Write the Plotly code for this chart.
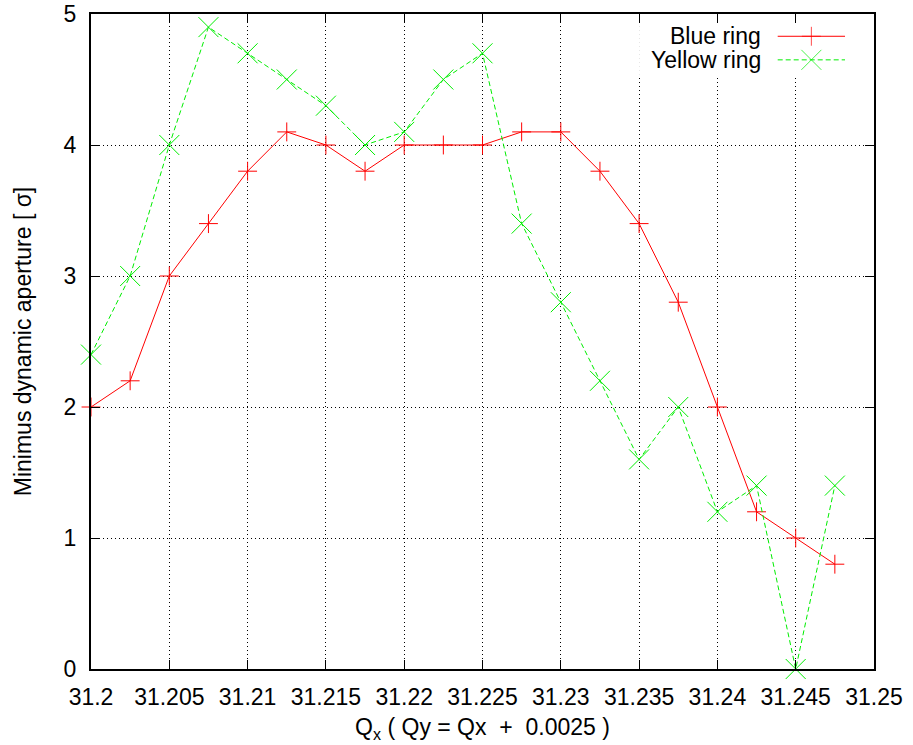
import plotly.graph_objects as go

# Tune scan: Qx values (Qy = Qx + 0.0025)
qx = [31.2, 31.2025, 31.205, 31.2075, 31.21, 31.2125, 31.215, 31.2175, 31.22, 31.2225,
      31.225, 31.2275, 31.23, 31.2325, 31.235, 31.2375, 31.24, 31.2425, 31.245, 31.2475]

# Minimum dynamic aperture in units of sigma
blue_ring = [2.0, 2.2, 3.0, 3.4, 3.8, 4.1, 4.0, 3.8, 4.0, 4.0,
             4.0, 4.1, 4.1, 3.8, 3.4, 2.8, 2.0, 1.2, 1.0, 0.8]
yellow_ring = [2.4, 3.0, 4.0, 4.9, 4.7, 4.5, 4.3, 4.0, 4.1, 4.5,
               4.7, 3.4, 2.8, 2.2, 1.6, 2.0, 1.2, 1.4, 0.0, 1.4]

x_ticks = [31.2, 31.205, 31.21, 31.215, 31.22, 31.225, 31.23, 31.235, 31.24, 31.245, 31.25]
x_tick_text = ["31.2", "31.205", "31.21", "31.215", "31.22", "31.225", "31.23", "31.235",
               "31.24", "31.245", "31.25"]
y_ticks = [0, 1, 2, 3, 4, 5]

series_names = ["Blue ring", "Yellow ring"]

RED = "#ff0000"
GREEN = "#00ee00"
FONT = "Liberation Sans, Arial, sans-serif"
FS = 23

fig = go.Figure()

fig.add_trace(go.Scatter(
    x=qx, y=blue_ring, mode="lines+markers", name=series_names[0],
    line=dict(color=RED, width=1),
    marker=dict(symbol="cross-thin-open", size=13.5, line=dict(color=RED, width=1)),
    cliponaxis=False, showlegend=False,
))
fig.add_trace(go.Scatter(
    x=qx, y=yellow_ring, mode="lines+markers", name=series_names[1],
    line=dict(color=GREEN, width=1, dash="5px,3px"),
    marker=dict(symbol="x-thin-open", size=20, line=dict(color=GREEN, width=1)),
    cliponaxis=False, showlegend=False,
))

# Key in the top-right corner (on an overlay axis spanning 0..1):
# a white patch hiding the grid, then label on the left, sample on the right
kx0, kx1, ky0, ky1 = 0.70, 0.976, 0.905, 0.988
fig.add_trace(go.Scatter(
    x=[kx0, kx1, kx1, kx0, kx0], y=[ky0, ky0, ky1, ky1, ky0], xaxis="x2", yaxis="y2",
    mode="lines", fill="toself", fillcolor="white", line=dict(width=0, color="white"),
    showlegend=False, hoverinfo="skip",
))

key_rows = [(series_names[0], RED, "solid", "cross-thin-open", 13.5, 0.966),
            (series_names[1], GREEN, "5px,3px", "x-thin-open", 20, 0.930)]
for label, color, dash, sym, size, yk in key_rows:
    fig.add_trace(go.Scatter(
        x=[0.877, 0.920, 0.963], y=[yk, yk, yk], xaxis="x2", yaxis="y2",
        mode="lines+markers", line=dict(color=color, width=1, dash=dash),
        marker=dict(symbol=sym, size=[0, size, 0], line=dict(color=color, width=1)),
        showlegend=False, hoverinfo="skip", cliponaxis=False,
    ))
    fig.add_annotation(x=0.858, y=yk, xref="x2", yref="y2", text=label,
                       showarrow=False, xanchor="right", yanchor="middle",
                       font=dict(family=FONT, size=FS, color="black"))

axis_common = dict(
    showline=True, linecolor="black", linewidth=2, mirror="allticks",
    ticks="inside", ticklen=9, tickwidth=1, tickcolor="black",
    showgrid=True, gridcolor="black", gridwidth=1, griddash="1px,3px",
    zeroline=False, tickfont=dict(family=FONT, size=FS, color="black"),
    automargin=False,
)

fig.update_layout(
    width=913, height=745,
    margin=dict(l=91, r=39, t=14, b=76),
    paper_bgcolor="white", plot_bgcolor="white",
    font=dict(family=FONT, size=FS, color="black"),
    xaxis=dict(range=[31.2, 31.25], tickvals=x_ticks, ticktext=x_tick_text,
               ticklabelstandoff=6,
               title=dict(text="Q<sub>x</sub> ( Qy = Qx  +  0.0025 )",
                          font=dict(family=FONT, size=FS), standoff=10),
               **axis_common),
    yaxis=dict(range=[0, 5], tickvals=y_ticks, ticklabelstandoff=8,
               title=dict(text="Minimus dynamic aperture [ σ]",
                          font=dict(family=FONT, size=FS), standoff=26),
               **axis_common),
    xaxis2=dict(range=[0, 1], overlaying="x", visible=False, fixedrange=True),
    yaxis2=dict(range=[0, 1], overlaying="y", visible=False, fixedrange=True),
    showlegend=False,
)

fig.write_html("out.html")
